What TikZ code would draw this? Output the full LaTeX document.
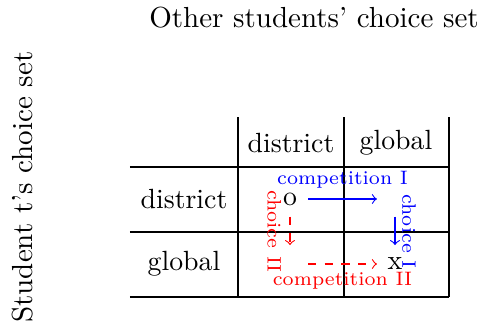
\documentclass[tikz,border=0pt]{standalone}
\usetikzlibrary{positioning}
\begin{document}
\begin{tikzpicture}[
    x=0.36pt, y=-0.36pt,
    cell/.style={inner sep=1pt},
    axistitle/.style={inner sep=1pt, font=\fontsize{10.45}{12}\selectfont},
    outcome/.style={inner sep=1pt},
    movelbl/.style={font=\scriptsize, inner sep=1pt},
    compete/.style={->, blue},
    switch/.style={->, red, dashed},
]
\useasboundingbox (0,0) rectangle (479,322);

% ── Axis titles ──
\node[axistitle] (top) at (314,18) {Other students' choice set};
\node[axistitle, rotate=90] (side) at (23,187) {Student t's choice set};

% ── Table ──
\draw (130,167) -- (449,167);
\draw (130,232) -- (449,232);
\draw (130,297) -- (449,297);
\draw (238,117) -- (238,297);
\draw (344,117) -- (344,297);
\draw (449,117) -- (449,297);

\node[cell] (hdist) at (291,143) {district};
\node[cell] (hglob) at (396,143) {global};
\node[cell] (rdist) at (184,199) {district};
\node[cell] (rglob) at (184,264) {global};

% ── Outcomes ──
\node[outcome] (o) at (290,199) {o};
\node[outcome] (x) at (395,264) {x};
\coordinate (ne) at (x |- o);
\coordinate (sw) at (o |- x);

% ── Moves ──
\draw[compete, shorten <=6.5pt, shorten >=6.5pt] (o.center) -- node[movelbl, above=2.6pt] {competition I} (ne);
\draw[compete, shorten <=6.3pt, shorten >=6.8pt] (ne) -- node[movelbl, sloped, above=1.4pt] {choice I} (x.center);
\draw[switch, shorten <=6.3pt, shorten >=6.8pt] (o.center) -- node[movelbl, sloped, below=2pt] {choice II} (sw);
\draw[switch, shorten <=6.5pt, shorten >=6.5pt] (sw) -- node[movelbl, below=1.7pt] {competition II} (x.center);

\end{tikzpicture}
\end{document}
